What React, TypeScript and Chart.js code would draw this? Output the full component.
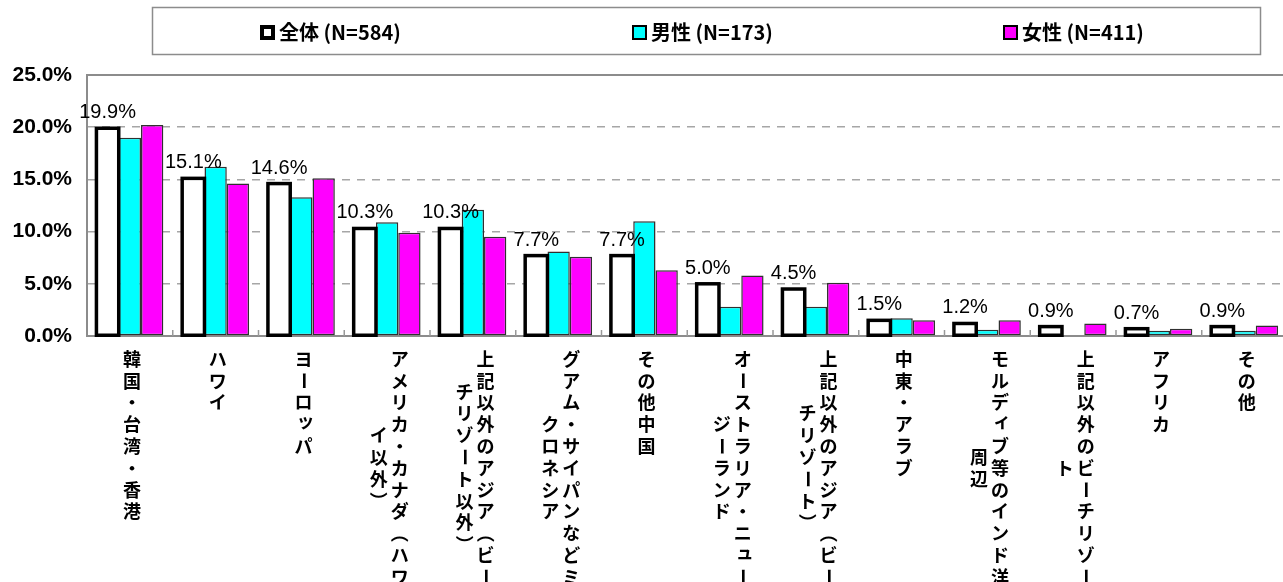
import React, { useEffect, useRef } from 'react';
import { Chart, registerables } from 'chart.js';

Chart.register(...registerables);

// ---- data ----
const categories: string[] = [
  '韓国・台湾・香港',
  'ハワイ',
  'ヨーロッパ',
  'アメリカ・カナダ（ハワイ以外）',
  '上記以外のアジア（ビーチリゾート以外）',
  'グアム・サイパンなどミクロネシア',
  'その他中国',
  'オーストラリア・ニュージーランド',
  '上記以外のアジア（ビーチリゾート）',
  '中東・アラブ',
  'モルディブ等のインド洋周辺',
  '上記以外のビーチリゾート',
  'アフリカ',
  'その他',
];
const seriesNames: string[] = ['全体 (N=584)', '男性 (N=173)', '女性 (N=411)'];
const totalValues: number[] = [19.9, 15.1, 14.6, 10.3, 10.3, 7.7, 7.7, 5.0, 4.5, 1.5, 1.2, 0.9, 0.7, 0.9];
const maleValues: number[] = [19.0, 16.2, 13.3, 10.9, 12.1, 8.1, 11.0, 2.8, 2.8, 1.7, 0.6, 0.0, 0.5, 0.5];
const femaleValues: number[] = [20.2, 14.6, 15.1, 9.9, 9.5, 7.6, 6.3, 5.8, 5.1, 1.5, 1.5, 1.2, 0.7, 1.0];
const yTickValues: number[] = [0, 5, 10, 15, 20, 25];

// ---- styles ----
const CJK = "'Noto Sans CJK JP', 'Noto Sans CJK SC', sans-serif";
const LATIN = "'Liberation Sans', Arial, sans-serif";
const seriesFill = ['#ffffff', '#00ffff', '#ff00ff'];
const seriesBorder = ['#000000', '#303030', '#303030'];
const seriesBorderWidth = [0, 1.5, 1.5];
const TOTAL_OUTLINE = 3.5;
const MAX_COL = 11;
const ROTATE_CHARS = 'ー（）〜－';
const SMALL_KANA = 'ッィュャョァゥェォ';

function splitColumns(s: string): string[] {
  const chars = Array.from(s);
  const cols: string[] = [];
  for (let i = 0; i < chars.length; i += MAX_COL) cols.push(chars.slice(i, i + MAX_COL).join(''));
  return cols;
}

const framePlugin = {
  id: 'frame',
  beforeDatasetsDraw(chart: any) {
    const { ctx, chartArea } = chart;
    ctx.save();
    ctx.strokeStyle = '#8c8c8c';
    ctx.lineWidth = 2;
    ctx.beginPath();
    ctx.moveTo(chartArea.right, chartArea.top);
    ctx.lineTo(chartArea.left, chartArea.top);
    ctx.lineTo(chartArea.left, chartArea.bottom);
    ctx.lineTo(chartArea.right, chartArea.bottom);
    ctx.stroke();
    ctx.restore();
  },
  afterDatasetsDraw(chart: any) {
    const { ctx, chartArea, scales } = chart;
    const xs = scales.x;
    const meta = chart.getDatasetMeta(0);

    // Excel-like outline (centred on the edges) for the 全体 bars
    ctx.save();
    ctx.strokeStyle = '#000';
    ctx.lineWidth = TOTAL_OUTLINE;
    ctx.lineJoin = 'miter';
    meta.data.forEach((bar: any) => {
      const w = bar.width;
      const h = bar.base - bar.y;
      if (h <= 0) return;
      ctx.strokeRect(bar.x - w / 2, bar.y, w, h);
    });
    ctx.restore();

    // inner tick marks at category boundaries
    ctx.save();
    ctx.strokeStyle = '#999999';
    ctx.lineWidth = 1.5;
    for (let i = 0; i < categories.length - 1; i++) {
      const x = (xs.getPixelForValue(i) + xs.getPixelForValue(i + 1)) / 2;
      ctx.beginPath();
      ctx.moveTo(x, chartArea.bottom);
      ctx.lineTo(x, chartArea.bottom - 6);
      ctx.stroke();
    }
    ctx.restore();

    // data labels for 全体
    ctx.save();
    ctx.fillStyle = '#000';
    ctx.font = `20px ${LATIN}`;
    ctx.textAlign = 'center';
    ctx.textBaseline = 'alphabetic';
    meta.data.forEach((bar: any, i: number) => {
      ctx.fillText(totalValues[i].toFixed(1) + '%', bar.x, bar.y - 10);
    });
    ctx.restore();
  },
  afterDraw(chart: any) {
    const { ctx, chartArea, scales } = chart;
    const xs = scales.x;
    // vertical category labels
    const pitch = 21.8;
    const colGap = 21;
    ctx.save();
    ctx.fillStyle = '#000';
    ctx.font = `bold 18px ${CJK}`;
    ctx.textAlign = 'center';
    ctx.textBaseline = 'middle';
    categories.forEach((label, i) => {
      const cx = xs.getPixelForValue(i) + 2;
      const cols = splitColumns(label);
      const longest = Math.max(...cols.map((c) => Array.from(c).length));
      cols.forEach((col, ci) => {
        const x = cx + ((cols.length - 1) / 2 - ci) * colGap;
        const chars = Array.from(col);
        const y0 = chartArea.bottom + 23 + ((longest - chars.length) / 2) * pitch;
        chars.forEach((ch, k) => {
          const y = y0 + k * pitch;
          if (ROTATE_CHARS.includes(ch)) {
            ctx.save();
            ctx.translate(x, y);
            ctx.rotate(Math.PI / 2);
            ctx.fillText(ch, 0, 0);
            ctx.restore();
          } else if (SMALL_KANA.includes(ch)) {
            ctx.fillText(ch, x + 2, y - 3);
          } else {
            ctx.fillText(ch, x, y);
          }
        });
      });
    });
    ctx.restore();

    // legend
    ctx.save();
    ctx.strokeStyle = '#8c8c8c';
    ctx.lineWidth = 1.5;
    ctx.strokeRect(152.5, 7.5, 1108, 47);
    const starts = [260, 632, 1003];
    const cy = 32.5;
    const m = 15;
    seriesNames.forEach((name, i) => {
      const x = starts[i];
      ctx.fillStyle = seriesFill[i];
      ctx.fillRect(x, cy - m / 2, m, m);
      ctx.strokeStyle = '#000';
      ctx.lineWidth = i === 0 ? 4 : 2;
      const inset = ctx.lineWidth / 2;
      ctx.strokeRect(x + inset, cy - m / 2 + inset, m - 2 * inset, m - 2 * inset);
      ctx.fillStyle = '#000';
      ctx.font = `bold 20px ${CJK}`;
      ctx.textAlign = 'left';
      ctx.textBaseline = 'middle';
      ctx.fillText(name, x + m + 4, cy);
    });
    ctx.restore();
  },
};

export default function App() {
  const canvasRef = useRef<HTMLCanvasElement | null>(null);

  useEffect(() => {
    if (!canvasRef.current) return;
    const datasets = [totalValues, maleValues, femaleValues].map((vals, i) => ({
      label: seriesNames[i],
      data: vals,
      backgroundColor: seriesFill[i],
      borderColor: seriesBorder[i],
      borderWidth: seriesBorderWidth[i],
      borderSkipped: false as const,
      categoryPercentage: 0.78,
      barPercentage: 1.0,
    }));
    const chart = new Chart(canvasRef.current, {
      type: 'bar',
      data: { labels: categories, datasets },
      options: {
        animation: false,
        responsive: false,
        layout: { padding: { top: 75, right: 12.5, left: 0, bottom: 0 } },
        plugins: { legend: { display: false }, tooltip: { enabled: false } },
        scales: {
          x: {
            type: 'category',
            grid: { display: false },
            border: { display: false },
            ticks: { display: false },
            afterFit: (s: any) => {
              s.height = 246;
            },
          },
          y: {
            min: 0,
            max: 25,
            afterBuildTicks: (s: any) => {
              s.ticks = yTickValues.map((v) => ({ value: v }));
            },
            afterFit: (s: any) => {
              s.width = 87;
            },
            border: { display: false, dash: [8, 7] },
            grid: {
              color: (c: any) =>
                c.tick && (c.tick.value === 0 || c.tick.value === 25) ? 'rgba(0,0,0,0)' : '#a6a6a6',
              lineWidth: 1.5,
              drawTicks: false,
            },
            ticks: {
              padding: 15,
              color: '#000',
              font: { family: LATIN, size: 21, weight: 'bold' },
              callback: (v: any) => Number(v).toFixed(1) + '%',
            },
          },
        },
      },
      plugins: [framePlugin],
    });
    return () => chart.destroy();
  }, []);

  return (
    <div
      style={{
        position: 'fixed',
        left: 0,
        top: 0,
        width: 1283,
        height: 582,
        overflow: 'hidden',
        background: '#fff',
      }}
    >
      <canvas ref={canvasRef} width={1300} height={582} style={{ display: 'block' }} />
    </div>
  );
}
